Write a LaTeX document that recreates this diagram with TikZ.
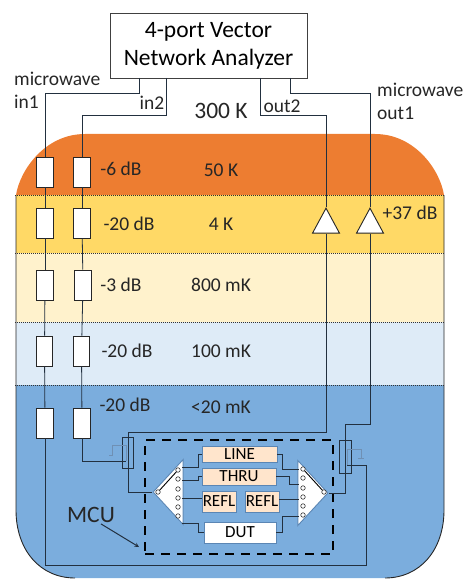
\documentclass[tikz,border=0pt]{standalone}
\usepackage{fontspec}
\setmainfont{Carlito}
\usetikzlibrary{shapes.geometric}
\definecolor{band50}{HTML}{ED7D31}
\definecolor{band4}{HTML}{FFD966}
\definecolor{band800}{HTML}{FFF2CC}
\definecolor{band100}{HTML}{DEEBF7}
\definecolor{band20}{HTML}{7BADDD}
\definecolor{boxedge}{HTML}{5B86B4}
\definecolor{wirecol}{HTML}{22303F}
\definecolor{tracecol}{HTML}{6F90B4}
\def\fridge{(16,195) .. controls (20,170) and (45,134) .. (85,134) -- (375,134)
  .. controls (415,134) and (440,170) .. (444,195) -- (444,510)
  .. controls (444,550) and (420,578) .. (385,578) -- (75,578)
  .. controls (40,578) and (16,550) .. (16,510) -- cycle}
\tikzset{
  wire/.style={draw=wirecol,line width=0.8pt},
  atten/.style={draw=black!85,fill=white,line width=0.9pt,minimum width=16.5pt,minimum height=30pt,inner sep=0pt},
  amp/.style={isosceles triangle,isosceles triangle stretches=true,shape border rotate=90,draw=black!85,fill=white,line width=0.9pt,minimum width=27pt,minimum height=25pt,inner sep=0pt,anchor=apex},
  switchbody/.style={isosceles triangle,isosceles triangle stretches=true,draw=boxedge,fill=white,line width=0.9pt,minimum width=65pt,minimum height=30pt,inner sep=0pt,anchor=apex},
  swport/.style={circle,draw=black!80,fill=white,line width=0.6pt,minimum size=4.5pt,inner sep=0pt},
  calbox/.style={draw=boxedge,fill=#1,line width=0.9pt,inner sep=0pt,font=\fontsize{17}{17}\selectfont},
  calbox/.default={orange!20},
  coupler/.style={draw=wirecol,line width=0.8pt,inner sep=0pt},
  lbl/.style={inner sep=0pt,text=black!85,font=\fontsize{19.5}{19.5}\selectfont},
  sidelbl/.style={inner sep=0pt,text=black!85,anchor=west,font=\fontsize{19.5}{19.5}\selectfont}
}
\begin{document}
\begin{tikzpicture}[x=1pt,y=-1pt]
\useasboundingbox (0,0) rectangle (464,580);
\begin{scope}
  \clip \fridge;
  \fill[band50] (0,120) rectangle (464,195);
  \fill[band4] (0,195) rectangle (464,253);
  \fill[band800] (0,253) rectangle (464,322);
  \fill[band100] (0,322) rectangle (464,385);
  \fill[band20] (0,385) rectangle (464,580);
\end{scope}
\draw[black!85,line width=0.9pt] (16,195) -- (16,510) .. controls (16,550) and (40,578) .. (75,578);
\draw[black!85,line width=0.9pt] (444,195) -- (444,510) .. controls (444,550) and (420,578) .. (385,578);
\foreach \y in {195,253,322,385}
  \draw[black!80,line width=1pt,densely dotted] (15,\y) -- (445,\y);

\node[draw=black!75,fill=white,line width=0.8pt,minimum width=197pt,minimum height=65pt,inner sep=0pt,align=center,font=\fontsize{23.5}{28}\selectfont] (VNA) at (208.5,45.5) {4-port Vector\\Network Analyzer};
\coordinate (VNAin1) at (139,78);
\coordinate (VNAin2) at (166,78);
\coordinate (VNAout2) at (260,78);
\coordinate (VNAout1) at (290,78);
\coordinate (in1bend) at (45,93);
\coordinate (in2bend) at (82,115);
\coordinate (out2bend) at (326,115);
\coordinate (out1bend) at (370,93);

\node[atten] (A11) at (45,172) {};
\node[atten] (A12) at (45,223) {};
\node[atten] (A13) at (45,285) {};
\node[atten] (A14) at (44.5,351) {};
\node[atten] (A15) at (45,423) {};
\node[atten] (A21) at (82,172) {};
\node[atten] (A22) at (82,223) {};
\node[atten] (A23) at (83,285) {};
\node[atten] (A24) at (81.5,351) {};
\node[atten] (A25) at (82,423) {};

\node[amp] (AMPB) at (326,207) {};
\node[amp] (AMPA) at (370,207) {};

\node[coupler,minimum width=11pt,minimum height=31pt] (CPL) at (127.5,452.5) {};
\node[coupler,minimum width=12pt,minimum height=33pt] (CPR) at (345,456.5) {};
\coordinate (CPLin) at (126,461);
\coordinate (CPLtop) at (128,432);
\coordinate (CPRin) at (347,465);
\coordinate (CPRtop) at (345,424);
\coordinate (in1low) at (366,565);

\node[draw=black,line width=2pt,dash pattern=on 9pt off 7pt,minimum width=188pt,minimum height=114pt,inner sep=0pt] (MCUbox) at (239,497) {};

\node[switchbody,shape border rotate=180] (SWL) at (152,492) {};
\node[switchbody,shape border rotate=0] (SWR) at (329,493) {};
\node[calbox,minimum width=75pt,minimum height=16pt] (LINE) at (239.5,454) {LINE};
\node[calbox,minimum width=74pt,minimum height=17pt] (THRU) at (239,476.5) {THRU};
\node[calbox,minimum width=34pt,minimum height=21pt] (REFLA) at (219,501.5) {REFL};
\node[calbox,minimum width=34pt,minimum height=21pt] (REFLB) at (262,501.5) {REFL};
\node[calbox=white,minimum width=72pt,minimum height=21pt] (DUT) at (240,532.5) {DUT};

\coordinate (SWLa) at (182,467);
\coordinate (SWLb) at (182,480);
\coordinate (SWLc) at (182,498);
\coordinate (SWLd) at (182,523);
\coordinate (SWRa) at (299,469);
\coordinate (SWRb) at (299,484);
\coordinate (SWRc) at (299,499);
\coordinate (SWRd) at (299,516);

% cables
\draw[wire] (VNAin1) |- (in1bend) -- (A11);
\draw[wire] (VNAin2) |- (in2bend) -- (A21);
\draw[wire] (VNAout2) |- (out2bend) -- (AMPB.apex);
\draw[wire] (VNAout1) |- (out1bend) -- (AMPA.apex);
\draw[wire] (A11) -- (A12);
\draw[wire] (A12) -- (A13);
\draw[wire] (A13) -- (A14);
\draw[wire] (A14) -- (A15);
\draw[wire] (A21) -- (A22);
\draw[wire] (A22) -- (A23);
\draw[wire] (A23) -- (A24);
\draw[wire] (A24) -- (A25);
\draw[wire] (A25) |- (CPLin);
\draw[wire] (A15) |- (in1low) |- (CPRin);
\draw[wire] (AMPB.lower side) |- (CPLtop) |- (SWL.apex);
\draw[wire] (AMPA.lower side) |- (CPRtop) |- (SWR.apex);

% coupled ports
\draw[tracecol,line width=0.8pt] (109,455) -- (112,455) -- (112,445) -- (126,445) -- (CPLin);
\draw[tracecol,line width=0.8pt] (CPRin) -- (347,449) -- (361,449) -- (361,458) (358,458) -- (364,458);

% calibration paths
\draw[wire] (SWLa) -- ++(16,0) |- (LINE.west);
\draw[wire] (SWLb) -- ++(16,0) |- (THRU.west);
\draw[wire] (SWLc) -- (SWLc -| REFLA.west);
\draw[wire] (SWLd) -- ++(16,0) |- (DUT.west);
\draw[wire] (LINE.east) -- ++(5,0) |- (SWRa);
\draw[wire] (THRU.east) -- ++(13,0) |- (SWRb);
\draw[wire] (SWRc -| REFLB.east) -- (SWRc);
\draw[wire] (DUT.east) -- ++(6,0) |- (SWRd);

\foreach \i/\y in {a/470,b/479,c/489,d/498,e/507,f/516}
  \node[swport] (PL\i) at (178,\y) {};
\foreach \i/\y in {a/469,b/478,c/488,d/497,e/506,f/515}
  \node[swport] (PR\i) at (303,\y) {};
\node[swport] (PLo) at (158,492) {};
\node[swport] (PRo) at (324,492) {};
\draw[black,line width=0.9pt] (PLo) -- (PLa);
\draw[black,line width=0.9pt] (PRo) -- (PRa);

\node[lbl] (T50) at (221,170) {50 K};
\node[lbl] (T4) at (221,224) {4 K};
\node[lbl] (T800) at (221,285) {800 mK};
\node[lbl] (T100) at (221,351) {100 mK};
\node[lbl] (T20) at (221,407) {<20 mK};
\node[lbl] (G50) at (121,169) {-6 dB};
\node[lbl] (G4) at (129,224) {-20 dB};
\node[lbl] (G800) at (121,285) {-3 dB};
\node[lbl] (G100) at (127,351) {-20 dB};
\node[lbl] (G20) at (125,405) {-20 dB};
\node[lbl] (GAMP) at (410,213) {+37 dB};
\node[lbl,font=\fontsize{23.5}{23.5}\selectfont] (T300) at (221,111) {300 K};
\node[lbl] (Lout2) at (282,106) {out2};
\node[lbl] (Lin2) at (152,103) {in2};
\node[sidelbl] (Lmwa) at (14,79) {microwave};
\node[sidelbl] (Lin1) at (14,102) {in1};
\node[sidelbl] (Lmwb) at (377,90) {microwave};
\node[sidelbl] (Lout1) at (377,113) {out1};

\node[lbl,font=\fontsize{23.5}{23.5}\selectfont] (MCU) at (91,515) {MCU};
\coordinate (MCUtip) at (139,547);
\draw[->,>=stealth,wirecol,line width=1pt] ([xshift=10pt,yshift=-1pt]MCU.south) -- (MCUtip);
\end{tikzpicture}
\end{document}
